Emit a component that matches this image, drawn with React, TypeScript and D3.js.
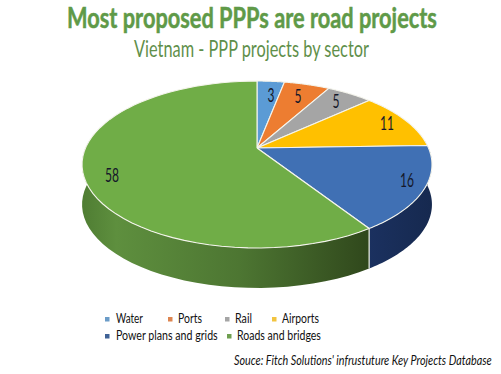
import React from "react";
import * as d3 from "d3";

const categories = ["Water", "Ports", "Rail", "Airports", "Power plans and grids", "Roads and bridges"];
const values = [3, 5, 5, 11, 16, 58];
const colors = ["#5b9bd5", "#ed7d31", "#a5a5a5", "#ffc000", "#4070b4", "#70ad47"];
const markerColors = ["#6b9cc8", "#dd8550", "#a5a5a5", "#f2c440", "#3f6296", "#6f9f50"];
const sideDark = ["#2f5070", "#7a4018", "#555555", "#806000", "#1a2f5c", "#33521f"];

const W = 501, H = 374;
const cx = 257, cy = 148, B = 171.5, A = 80.2, K = 0.1976, DEPTH = 40;

const project = (a: number): [number, number] => {
  const u = Math.sin(a), v = -Math.cos(a);
  const d = 1 - K * v;
  return [cx + (B * u) / d, cy + (A * v) / d];
};

const line = d3.line<[number, number]>().x((p) => p[0]).y((p) => p[1]);
const arcs = d3.pie<number>().sort(null).startAngle(0).endAngle(2 * Math.PI)(values);
const samples = (a0: number, a1: number) =>
  d3.range(0, 61).map((i) => project(a0 + ((a1 - a0) * i) / 60));

const FONT = "Lato, 'Open Sans', sans-serif";
let ctx: CanvasRenderingContext2D | null = null;
const measure = (s: string, size: number, weight: number, italic: boolean) => {
  if (!ctx) ctx = document.createElement("canvas").getContext("2d");
  ctx!.font = `${italic ? "italic " : ""}${weight} ${size}px Lato`;
  return ctx!.measureText(s).width;
};

type FitProps = { s: string; x0: number; x1: number; base: number; size: number; fill: string; weight?: number; italic?: boolean; bold?: number };
const Fit = ({ s, x0, x1, base, size, fill, weight = 400, italic = false, bold = 0 }: FitProps) => {
  const k = (x1 - x0) / measure(s, size, weight, italic);
  return (
    <text
      transform={`translate(${x0},${base}) scale(${k},1)`}
      fontFamily={FONT}
      fontSize={size}
      fontWeight={weight}
      fontStyle={italic ? "italic" : "normal"}
      fill={fill}
      stroke={bold ? fill : "none"}
      strokeWidth={bold}
    >
      {s}
    </text>
  );
};

const valueLabelPos: [number, number][] = [[271, 102], [298, 103], [336, 108], [387, 130], [407, 187], [112, 182]];
const legendPos: { mark: number; x0: number; x1: number; base: number }[] = [
  { mark: 105, x0: 116, x1: 143, base: 323 },
  { mark: 168, x0: 178, x1: 202, base: 323 },
  { mark: 225, x0: 235, x1: 252, base: 323 },
  { mark: 272, x0: 282, x1: 319, base: 323 },
  { mark: 105, x0: 116, x1: 218, base: 340 },
  { mark: 227, x0: 237, x1: 321, base: 340 },
];

export default function App() {
  const tops = arcs.map((d) => line([[cx, cy], ...samples(d.startAngle, d.endAngle), [cx, cy]])!);
  const sides = arcs.map((d) => {
    const pts = samples(d.startAngle, d.endAngle).filter((_, i, all) => {
      const a = d.startAngle + ((d.endAngle - d.startAngle) * i) / (all.length - 1);
      return a > Math.PI * 0.47 && a < Math.PI * 1.53;
    });
    if (!pts.length) return null;
    return line([...pts, ...pts.slice().reverse().map((p) => [p[0], p[1] + DEPTH] as [number, number])])! + "Z";
  });
  const [sepX, sepY] = project(arcs[5].startAngle);

  return (
    <svg width={W} height={H} style={{ position: "absolute", left: 0, top: 0, background: "#fff" }}>
      <defs>
        <linearGradient id="greenSide" gradientUnits="userSpaceOnUse" x1={82} x2={368} y1={0} y2={0}>
          <stop offset="0" stopColor="#4f7d33" />
          <stop offset="0.12" stopColor="#5e8f3e" />
          <stop offset="0.55" stopColor="#4d7632" />
          <stop offset="1" stopColor="#30481c" />
        </linearGradient>
        <linearGradient id="blueSide" gradientUnits="userSpaceOnUse" x1={367} x2={432} y1={0} y2={0}>
          <stop offset="0" stopColor="#1b3160" />
          <stop offset="1" stopColor="#16294f" />
        </linearGradient>
      </defs>

      {sides.map((p, i) =>
        p ? <path key={i} d={p} fill={i === 5 ? "url(#greenSide)" : i === 4 ? "url(#blueSide)" : sideDark[i]} /> : null
      )}
      <line x1={sepX} x2={sepX} y1={sepY} y2={sepY + DEPTH} stroke="#eef2e8" strokeWidth={1.2} />
      {tops.map((p, i) => (
        <path key={i} d={p} fill={colors[i]} stroke="#f4f4ec" strokeWidth={1.1} strokeLinejoin="round" />
      ))}

      {values.map((v, i) => {
        const s = String(v);
        const w = s.length === 1 ? 7 : 14;
        return (
          <Fit key={i} s={s} x0={valueLabelPos[i][0] - w / 2} x1={valueLabelPos[i][0] + w / 2} base={valueLabelPos[i][1]} size={19} fill="#15182a" />
        );
      })}

      <Fit s="Most proposed PPPs are road projects" x0={67} x1={437} base={28} size={28} weight={700} fill="#5f9a48" bold={0.5} />
      <Fit s="Vietnam - PPP projects by sector" x0={134} x1={370} base={57} size={23} fill="#5f8f4a" />

      {categories.map((c, i) => {
        const p = legendPos[i];
        return (
          <g key={c}>
            <rect x={p.mark} y={p.base - 6} width={4.5} height={4.5} fill={markerColors[i]} />
            <Fit s={c} x0={p.x0} x1={p.x1} base={p.base} size={14} fill="#111111" />
          </g>
        );
      })}

      <Fit s="Souce: Fitch Solutions' infrustuture Key Projects Database" x0={234} x1={492} base={365} size={14} italic fill="#111111" />
    </svg>
  );
}
